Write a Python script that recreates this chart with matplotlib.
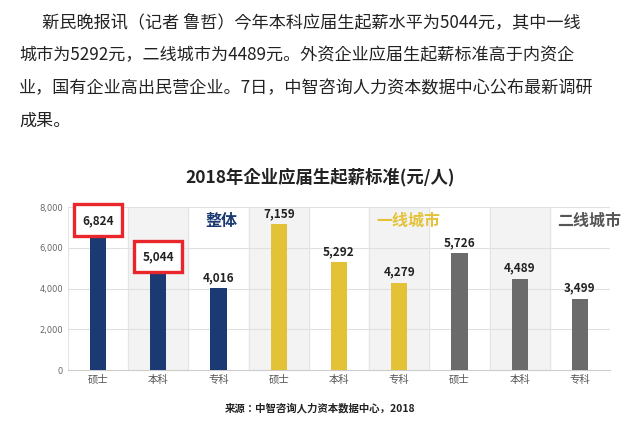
import matplotlib.pyplot as plt
from matplotlib import font_manager
from matplotlib.font_manager import FontProperties
from matplotlib.patches import Rectangle

# trouver les fichiers CJK installés (regular / bold)
cjk = sorted(f for f in font_manager.findSystemFonts() if "CJK" in f)


def pick(words):
    for f in cjk:
        if all(w in f for w in words):
            return f
    return cjk[0] if cjk else None


f_reg = pick(["Regular"]) or pick([])
f_bold = pick(["Bold"]) or f_reg


def fp(size, bold=False):
    f = f_bold if bold else f_reg
    return FontProperties(fname=f, size=size) if f else FontProperties(size=size)


# ---------- données ----------
categories = ["硕士", "本科", "专科"] * 3
values = [6824, 5044, 4016, 7159, 5292, 4279, 5726, 4489, 3499]
groups = ["整体", "一线城市", "二线城市"]
group_colors = ["#1b3a73", "#e3c238", "#6b6b6b"]
yticks = [0, 2000, 4000, 6000, 8000]
highlight = [0, 1]

paragraph = [
    "      新民晚报讯（记者 鲁哲）今年本科应届生起薪水平为5044元，其中一线",
    "城市为5292元，二线城市为4489元。外资企业应届生起薪标准高于内资企",
    "业，国有企业高出民营企业。7日，中智咨询人力资本数据中心公布最新调研",
    "成果。",
]

W, H = 640, 432
fig = plt.figure(figsize=(W / 100, H / 100), dpi=100)
fig.patch.set_facecolor("white")

for i, line in enumerate(paragraph):
    fig.text(0.03, 1 - (22 + i * 33) / H, line, fontproperties=fp(12.3), color="#222222", va="center")

fig.text(0.5, 1 - 177 / H, "2018年企业应届生起薪标准(元/人)", fontproperties=fp(12.5, True),
         ha="center", va="center", color="#222222")
fig.text(0.5, 1 - 408 / H, "来源：中智咨询人力资本数据中心，2018", fontproperties=fp(7.5, True),
         ha="center", va="center", color="#222222")

ax = fig.add_axes([68 / W, 1 - 370 / H, 542 / W, 163 / H])
x = list(range(len(values)))
colors = [group_colors[i // 3] for i in x]
ax.set_xlim(-0.5, len(values) - 0.5)
ax.set_ylim(0, 8000)

# fonds de groupe et séparateurs
for i in x:
    if i % 2 == 1:
        ax.axvspan(i - 0.5, i + 0.5, color="#f3f3f3", zorder=0)
    ax.axvline(i - 0.5, color="#e4e4e4", lw=0.8, zorder=0)
for t in yticks[1:]:
    ax.axhline(t, color="#e0e0e0", lw=0.8, zorder=0)

ax.bar(x, values, width=0.27, color=colors, zorder=3)
for i, v in zip(x, values):
    ax.text(i, v + 200, f"{v:,}", ha="center", va="bottom", fontproperties=fp(8.5, True),
            color="#222222", zorder=7)
for i in highlight:
    ax.add_patch(Rectangle((i - 0.4, values[i] - 250), 0.8, 1550, fc="white",
                           ec="#e8262b", lw=2.4, zorder=6, clip_on=False))

for g, (name, c) in enumerate(zip(groups, group_colors)):
    ax.text(g * 3 + 2.2 - (0.15 if g == 0 else 0.05), 7300, name, ha="center", va="center",
            fontproperties=fp(11.5, True), color=c if g < 2 else "#555555", zorder=5)

ax.set_xticks(x)
ax.set_xticklabels(categories, fontproperties=fp(7.5), color="#555555")
ax.set_yticks(yticks)
ax.set_yticklabels([f"{t:,}" for t in yticks], fontsize=6, color="#666666")
ax.tick_params(length=0)
for s in ["top", "right", "left"]:
    ax.spines[s].set_visible(False)
ax.spines["bottom"].set_color("#cccccc")

fig.savefig("out.png", dpi=100)
